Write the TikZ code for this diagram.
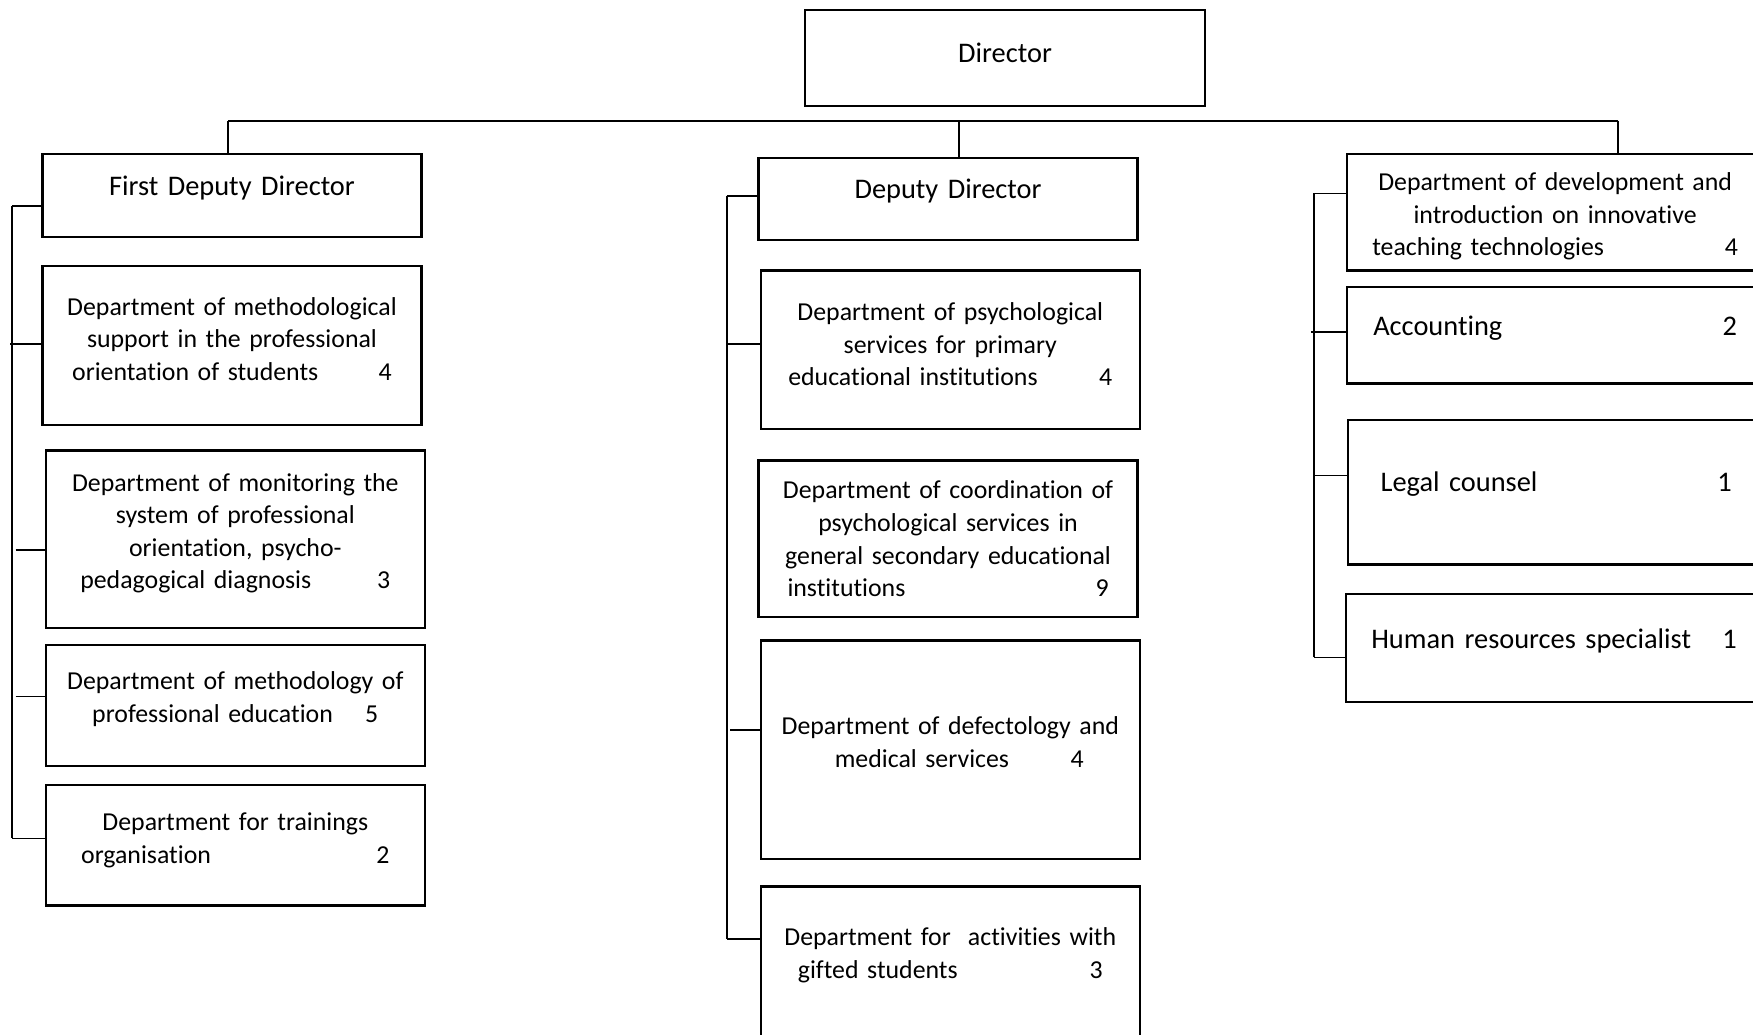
\documentclass[tikz,border=0pt]{standalone}
\usepackage{fontspec}
\setmainfont[Ligatures=NoCommon]{Carlito}
\usetikzlibrary{positioning,calc}
\tikzset{
  % boxes
  unit/.style={rectangle,draw=black,line width=1pt,inner sep=3pt,
               align=center,font=\fontsize{11.55}{14.6}\selectfont},
  big/.style={font=\fontsize{12.7}{15.4}\selectfont},
  colw/.style={minimum width=169.5pt,text width=162pt},
  roww/.style={minimum width=186pt,text width=178pt},
  % lines
  link/.style={draw=black,line width=0.8pt},
  thin/.style={draw=black,line width=0.5pt},
}
\begin{document}
\begin{tikzpicture}[x=0.5pt,y=-0.5pt]
  \useasboundingbox[fill=white] (0,0) rectangle (1568,925);
  % top
  \node[unit,big,minimum width=179pt,minimum height=43pt,text depth=5pt] (dir) at (899,52) {Director};
  % first deputy
  \node[unit,big,colw,minimum height=37pt,text depth=8.5pt] (fdd) at (207.5,175) {First Deputy Director};
  \node[unit,colw,minimum height=71pt,text depth=35.2pt] (l1) at (207.5,309)
    {Department of methodological\\support in the professional\\orientation of students\hspace{27pt}4};
  \node[unit,colw,minimum height=79.5pt,text depth=51.3pt] (l2) at (210.5,482.5)
    {Department of monitoring the\\system of professional\\orientation, psycho-\\pedagogical diagnosis\hspace{29.5pt}3};
  \node[unit,colw,minimum height=54pt,text depth=22.1pt] (l3) at (210.5,631)
    {Department of methodology of\\professional education\hspace{14.5pt}5};
  \node[unit,colw,minimum height=54pt,text depth=21.1pt] (l4) at (210.5,756)
    {Department for trainings\\organisation\hspace{74pt}2};
  % deputy
  \node[unit,big,colw,minimum height=37pt,text depth=9.5pt] (dd) at (848,178) {Deputy Director};
  \node[unit,colw,minimum height=71pt,text depth=34.2pt] (m1) at (850,313)
    {Department of psychological\\services for primary\\educational institutions\hspace{27.5pt}4};
  \node[unit,colw,minimum height=70pt] (m2) at (848,482)
    {Department of coordination of\\psychological services in\\general secondary educational\\institutions\hspace{85pt}9};
  \node[unit,colw,minimum height=97.5pt,text depth=21.6pt] (m3) at (850,670.5)
    {Department of defectology and\\\hspace*{8pt}medical services\hspace{27.5pt}4};
  \node[unit,colw,anchor=base,inner ysep=0pt,text height=26.5pt,text depth=52pt] (m4) at (850,846)
    {Department for\ \ activities with\\gifted students\hspace{59pt}3};
  % staff
  \node[unit,roww,minimum height=52pt,text depth=27.7pt] (r1) at (1391,190)
    {Department of development and\\introduction on innovative\\teaching technologies\hspace{54pt}4};
  \node[unit,big,roww,minimum height=43pt,text depth=8.5pt] (r2) at (1391,300) {Accounting\hspace{98.5pt}2};
  \node[unit,big,roww,minimum height=64.5pt,text depth=9.5pt] (r3) at (1392,440.5) {Legal counsel\hspace{80.5pt}1};
  \node[unit,big,roww,minimum height=48.5pt,text depth=8.5pt] (r4) at (1390,579.5) {Human resources specialist\hspace{14pt}1};

  % bus
  \coordinate (bl) at (204,108);
  \coordinate (bm) at (858,108);
  \coordinate (br) at (1447,108);
  \draw[link] (bl) -- (br);
  \draw[link] (bl) -- (bl |- fdd.north);
  \draw[link] (bm) -- (bm |- dd.north);
  \draw[link] (br) -- (br |- r1.north);

  % left spine
  \coordinate (sl0) at (11,184);
  \coordinate (sl1) at (9,308);
  \coordinate (sl2) at (14,492);
  \coordinate (sl3) at (14,623);
  \coordinate (sl4) at (11,750);
  \draw[link] (sl0) -- (sl4);
  \draw[link] (sl0) -- (sl0 -| fdd.west);
  \draw[link] (sl1) -- (sl1 -| l1.west);
  \draw[thin] (sl2) -- (sl2 -| l2.west);
  \draw[thin] (sl3) -- (sl3 -| l3.west);
  \draw[link] (sl4) -- (sl4 -| l4.west);

  % middle spine
  \coordinate (sm0) at (650,175);
  \coordinate (sm1) at (650,308);
  \coordinate (sm2) at (653,653);
  \coordinate (sm3) at (650,840);
  \draw[link] (sm0) -- (sm3);
  \draw[link] (sm0) -- (sm0 -| dd.west);
  \draw[link] (sm1) -- (sm1 -| m1.west);
  \draw[link] (sm2) -- (sm2 -| m3.west);
  \draw[link] (sm3) -- (sm3 -| m4.west);

  % right spine
  \coordinate (sr0) at (1175,173);
  \coordinate (sr1) at (1173,297);
  \coordinate (sr2) at (1176,425);
  \coordinate (sr3) at (1175,588);
  \draw[link] (sr0) -- (sr3);
  \draw[link] (sr0) -- (sr0 -| r1.west);
  \draw[thin] (sr1) -- (sr1 -| r2.west);
  \draw[thin] (sr2) -- (sr2 -| r3.west);
  \draw[thin] (sr3) -- (sr3 -| r4.west);
\end{tikzpicture}
\end{document}
